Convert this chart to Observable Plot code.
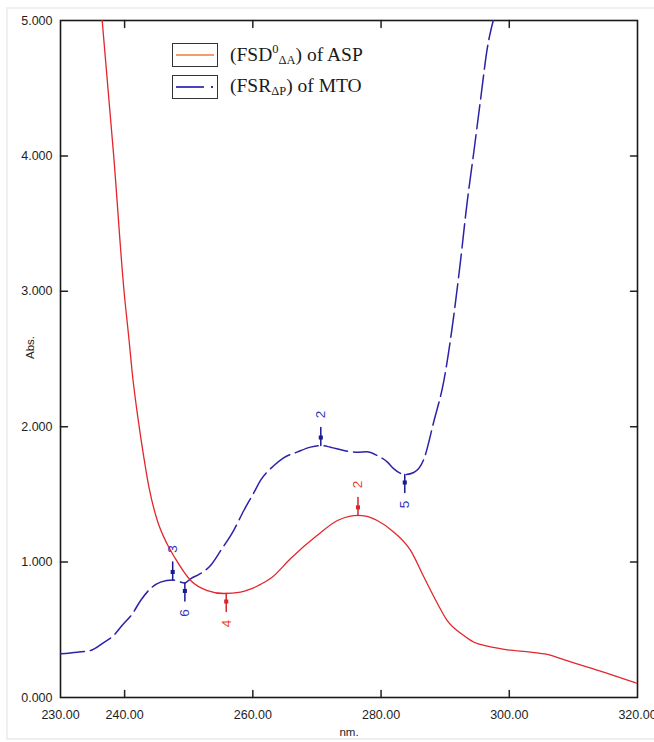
<!DOCTYPE html>
<html><head><meta charset="utf-8">
<script src="https://cdn.jsdelivr.net/npm/d3@7"></script>
<script src="https://cdn.jsdelivr.net/npm/@observablehq/plot@0.6"></script>
<style>
body{margin:0;background:#fff;}
#wrap{position:relative;width:654px;height:742px;overflow:hidden;background:#fff;}
#border{position:absolute;left:6px;top:7px;width:720px;height:733px;border:2px solid #efefef;box-sizing:border-box;}
#chart{position:absolute;left:0;top:0;}
#legend{position:absolute;left:172px;top:43px;font-family:"Liberation Serif","Times New Roman",serif;font-size:19.5px;color:#1a1a1a;}
.row{display:flex;align-items:center;height:24px;margin-bottom:8px;}
.box{width:46px;height:24px;border:1.6px solid #333;margin-right:12px;box-sizing:border-box;display:flex;align-items:center;justify-content:center;}
sub,sup{font-size:12.5px;}
sub{vertical-align:-3px;}
sup{vertical-align:8px;}
</style></head>
<body>
<div id="wrap"><div id="border"></div><div id="chart"></div>
<div id="legend">
  <div class="row"><div class="box"><svg width="40" height="6"><line x1="1" y1="3" x2="39" y2="3" stroke="#ee7b3a" stroke-width="1.6"/></svg></div><span>(FSD<sup>0</sup><sub>ΔA</sub>) of ASP</span></div>
  <div class="row"><div class="box"><svg width="40" height="6"><line x1="1" y1="3" x2="29" y2="3" stroke="#3a2eb8" stroke-width="1.8"/><line x1="36" y1="3" x2="38" y2="3" stroke="#3a2eb8" stroke-width="1.8"/></svg></div><span>(FSR<sub>ΔP</sub>) of MTO</span></div>
</div>
</div>
<script>
// ASP (FSD0 ΔA)
const wlASP = [236.5, 238.3, 239.9, 240.7, 241.2, 242.2, 243.0, 243.8, 245.1, 246.6, 247.9, 250.3, 252.9, 255.5, 258.1, 259.6, 261.2, 262.8, 265.9, 270.0, 273.2, 275.2, 276.4, 277.6, 279.4, 282.0, 284.6, 286.7, 288.8, 290.3, 292.9, 294.5, 296.6, 299.7, 303.3, 305.9, 308.5, 312.2, 315.3, 319.4, 320.0];
const absASP = [5.0, 4.0, 3.006, 2.637, 2.393, 2.024, 1.773, 1.551, 1.307, 1.137, 1.027, 0.864, 0.790, 0.768, 0.778, 0.800, 0.835, 0.880, 1.027, 1.196, 1.307, 1.340, 1.345, 1.340, 1.307, 1.221, 1.086, 0.888, 0.694, 0.569, 0.458, 0.408, 0.379, 0.352, 0.335, 0.318, 0.280, 0.224, 0.179, 0.113, 0.103];
// MTO (FSR ΔP)
const wlMTO = [230.0, 232.6, 234.7, 236.8, 238.3, 239.6, 241.2, 242.5, 244.0, 245.6, 247.5, 249.4, 250.3, 251.8, 253.4, 255.0, 257.0, 258.6, 260.2, 261.2, 263.3, 264.8, 266.9, 269.0, 270.6, 272.1, 274.2, 276.3, 277.8, 279.4, 281.0, 282.0, 283.7, 285.1, 286.7, 288.2, 289.8, 291.1, 292.4, 293.4, 294.5, 295.5, 296.6, 297.5];
const absMTO = [0.323, 0.335, 0.347, 0.408, 0.458, 0.532, 0.618, 0.716, 0.803, 0.852, 0.868, 0.846, 0.877, 0.914, 0.975, 1.086, 1.233, 1.381, 1.516, 1.603, 1.713, 1.770, 1.812, 1.849, 1.861, 1.849, 1.824, 1.812, 1.815, 1.787, 1.738, 1.689, 1.647, 1.662, 1.763, 2.033, 2.341, 2.735, 3.227, 3.646, 4.040, 4.409, 4.803, 5.0];

// peak / valley picks
const peakSeries = ["ASP", "ASP", "MTO", "MTO", "MTO", "MTO"];
const peakWl     = [276.4, 255.85, 247.5, 249.4, 270.6, 283.7];
const peakAbs    = [1.345, 0.768, 0.868, 0.846, 1.861, 1.647];
const peakLabel  = ["2", "4", "3", "6", "2", "5"];
const peakType   = ["peak", "valley", "peak", "valley", "peak", "valley"];

const xTickValues = [230, 240, 260, 280, 300, 320];
const yTickValues = [0, 1, 2, 3, 4, 5];
const xInnerTicks = [240, 260, 280, 300];
const yInnerTicks = [1, 2, 3, 4];

const asp = wlASP.map((w, i) => ({wl: w, abs: absASP[i]}));
const mto = wlMTO.map((w, i) => ({wl: w, abs: absMTO[i]}));
const peaks = peakWl.map((w, i) => ({wl: w, abs: peakAbs[i], label: peakLabel[i], series: peakSeries[i], up: peakType[i] === "peak"}));

const RED = "#e2262b", BLUE = "#2c22a8";
const lineCol = d => d.series === "ASP" ? "#d8262a" : "#1c1890";
const textCol = d => d.series === "ASP" ? "#e2452a" : "#3434c0";

const tickShape = {draw(ctx, l) { ctx.moveTo(0, 0); ctx.lineTo(0, -l); }};
const tk = {length: 7, anchor: "start", shape: tickShape, stroke: "#222", strokeWidth: 1.5};

const plot = Plot.plot({
  width: 654, height: 742,
  marginLeft: 60, marginRight: 17, marginTop: 20, marginBottom: 45,
  x: {domain: [230, 320]},
  y: {domain: [0, 5]},
  style: {fontFamily: "'Liberation Sans', Arial, sans-serif", fontSize: "12.5px", color: "#1e1e1e", background: "transparent"},
  marks: [
    Plot.axisX({ticks: xTickValues, tickSize: 0, tickPadding: 13, tickFormat: d3.format(".2f"), label: null}),
    Plot.axisY({ticks: yTickValues, tickSize: 0, tickPadding: 8, tickFormat: d3.format(".3f"), label: null}),
    Plot.vector(xInnerTicks, {...tk, x: d => d, frameAnchor: "bottom", rotate: 0}),
    Plot.vector(xInnerTicks, {...tk, x: d => d, frameAnchor: "top", rotate: 180}),
    Plot.vector(yInnerTicks, {...tk, y: d => d, frameAnchor: "left", rotate: 90}),
    Plot.vector(yInnerTicks, {...tk, y: d => d, frameAnchor: "right", rotate: 270}),
    Plot.frame({stroke: "#1a1a1a", strokeWidth: 1.6}),
    Plot.text(["Abs."], {frameAnchor: "left", dx: -30, rotate: -90, fontSize: 11.5}),
    Plot.text(["nm."], {frameAnchor: "bottom", dy: 38, fontSize: 11.5}),
    Plot.line(mto, {x: "wl", y: "abs", stroke: BLUE, strokeWidth: 1.5, strokeDasharray: "24,6", curve: "monotone-x", clip: true}),
    Plot.line(asp, {x: "wl", y: "abs", stroke: RED, strokeWidth: 1.3, curve: "monotone-x", clip: true}),
    Plot.vector(peaks, {x: "wl", y: "abs", length: 18, anchor: "start", shape: tickShape, rotate: d => d.up ? 0 : 180, stroke: lineCol, strokeWidth: 1.5}),
    Plot.dot(peaks.filter(d => d.up), {x: "wl", y: "abs", symbol: "square", r: 2.3, fill: lineCol, dy: -8}),
    Plot.dot(peaks.filter(d => !d.up), {x: "wl", y: "abs", symbol: "square", r: 2.3, fill: lineCol, dy: 8}),
    Plot.text(peaks.filter(d => d.up), {x: "wl", y: "abs", text: "label", fill: textCol, dy: -31, rotate: -90, fontSize: 13.5}),
    Plot.text(peaks.filter(d => !d.up), {x: "wl", y: "abs", text: "label", fill: textCol, dy: 30, rotate: -90, fontSize: 13.5})
  ]
});
document.getElementById("chart").appendChild(plot);
</script>
</body></html>
